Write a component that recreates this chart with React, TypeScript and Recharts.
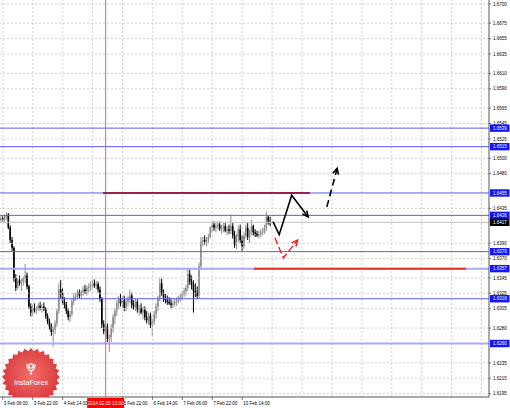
import React from 'react'
import { ComposedChart, Bar, Line, XAxis, YAxis, ReferenceLine } from 'recharts'

// EURUSD-like H1 bars (bar index, open/high/low/close)
const opens = [
  1.6420, 1.6422, 1.6420, 1.6425, 1.6427, 1.6410, 1.6394, 1.6384, 1.6345, 1.6332,
  1.6342, 1.6338, 1.6340, 1.6345, 1.6348, 1.6334, 1.6308, 1.6300, 1.6306, 1.6303,
  1.6305, 1.6309, 1.6306, 1.6308, 1.6304, 1.6295, 1.6288, 1.6282, 1.6275, 1.6278,
  1.6286, 1.6302, 1.6330, 1.6325, 1.6315, 1.6310, 1.6302, 1.6294, 1.6298, 1.6315,
  1.6320, 1.6322, 1.6326, 1.6322, 1.6327, 1.6330, 1.6328, 1.6332, 1.6334, 1.6336,
  1.6338, 1.6335, 1.6337, 1.6330, 1.6318, 1.6285, 1.6276, 1.6282, 1.6266, 1.6268,
  1.6280, 1.6294, 1.6302, 1.6312, 1.6318, 1.6312, 1.6316, 1.6306, 1.6314, 1.6318,
  1.6322, 1.6310, 1.6308, 1.6314, 1.6304, 1.6306, 1.6300, 1.6304, 1.6294, 1.6290,
  1.6296, 1.6284, 1.6288, 1.6298, 1.6308, 1.6318, 1.6338, 1.6326, 1.6318, 1.6316,
  1.6314, 1.6312, 1.6310, 1.6312, 1.6314, 1.6316, 1.6318, 1.6320, 1.6324, 1.6328,
  1.6332, 1.6350, 1.6340, 1.6336, 1.6328, 1.6326, 1.6322, 1.6360, 1.6392, 1.6394,
  1.6392, 1.6396, 1.6398, 1.6410, 1.6414, 1.6410, 1.6412, 1.6414, 1.6408, 1.6410,
  1.6412, 1.6406, 1.6408, 1.6406, 1.6412, 1.6400, 1.6388, 1.6398, 1.6408, 1.6394,
  1.6386, 1.6400, 1.6410, 1.6398, 1.6404, 1.6412, 1.6404, 1.6402, 1.6400, 1.6402,
  1.6404, 1.6406, 1.6410, 1.6424, 1.6418,
]
const highs = [
  1.6425, 1.6426, 1.6427, 1.6430, 1.6429, 1.6413, 1.6398, 1.6386, 1.6350, 1.6345,
  1.6348, 1.6344, 1.6347, 1.6363, 1.6352, 1.6336, 1.6312, 1.6310, 1.6312, 1.6308,
  1.6312, 1.6314, 1.6311, 1.6313, 1.6307, 1.6299, 1.6292, 1.6286, 1.6282, 1.6290,
  1.6305, 1.6338, 1.6342, 1.6332, 1.6320, 1.6314, 1.6306, 1.6302, 1.6318, 1.6325,
  1.6326, 1.6330, 1.6330, 1.6329, 1.6334, 1.6336, 1.6335, 1.6338, 1.6340, 1.6342,
  1.6343, 1.6341, 1.6340, 1.6334, 1.6320, 1.6290, 1.6288, 1.6286, 1.6272, 1.6285,
  1.6298, 1.6306, 1.6316, 1.6322, 1.6324, 1.6320, 1.6322, 1.6318, 1.6322, 1.6330,
  1.6326, 1.6316, 1.6318, 1.6317, 1.6310, 1.6312, 1.6308, 1.6308, 1.6302, 1.6300,
  1.6300, 1.6292, 1.6302, 1.6312, 1.6322, 1.6345, 1.6344, 1.6330, 1.6324, 1.6322,
  1.6320, 1.6318, 1.6316, 1.6318, 1.6320, 1.6322, 1.6324, 1.6328, 1.6332, 1.6336,
  1.6358, 1.6356, 1.6348, 1.6342, 1.6338, 1.6334, 1.6365, 1.6398, 1.6398, 1.6400,
  1.6398, 1.6402, 1.6412, 1.6418, 1.6418, 1.6416, 1.6418, 1.6418, 1.6414, 1.6416,
  1.6416, 1.6412, 1.6414, 1.6427, 1.6416, 1.6406, 1.6402, 1.6412, 1.6414, 1.6400,
  1.6404, 1.6414, 1.6416, 1.6408, 1.6420, 1.6414, 1.6408, 1.6406, 1.6406, 1.6408,
  1.6410, 1.6414, 1.6431, 1.6426, 1.6424,
]
const lows = [
  1.6416, 1.6418, 1.6417, 1.6421, 1.6408, 1.6390, 1.6380, 1.6340, 1.6328, 1.6330,
  1.6335, 1.6328, 1.6335, 1.6338, 1.6330, 1.6305, 1.6295, 1.6296, 1.6300, 1.6298,
  1.6302, 1.6303, 1.6300, 1.6302, 1.6292, 1.6285, 1.6278, 1.6270, 1.6256, 1.6272,
  1.6282, 1.6298, 1.6318, 1.6310, 1.6305, 1.6298, 1.6290, 1.6288, 1.6295, 1.6310,
  1.6316, 1.6318, 1.6319, 1.6318, 1.6322, 1.6324, 1.6322, 1.6326, 1.6328, 1.6330,
  1.6332, 1.6330, 1.6326, 1.6314, 1.6280, 1.6272, 1.6268, 1.6262, 1.6249, 1.6262,
  1.6274, 1.6285, 1.6296, 1.6305, 1.6308, 1.6306, 1.6302, 1.6302, 1.6308, 1.6312,
  1.6305, 1.6304, 1.6302, 1.6300, 1.6296, 1.6298, 1.6292, 1.6290, 1.6286, 1.6284,
  1.6280, 1.6270, 1.6284, 1.6292, 1.6302, 1.6315, 1.6322, 1.6314, 1.6312, 1.6310,
  1.6310, 1.6306, 1.6306, 1.6308, 1.6309, 1.6312, 1.6314, 1.6316, 1.6320, 1.6322,
  1.6328, 1.6336, 1.6330, 1.6300, 1.6320, 1.6318, 1.6318, 1.6356, 1.6386, 1.6388,
  1.6386, 1.6390, 1.6396, 1.6404, 1.6406, 1.6404, 1.6408, 1.6406, 1.6402, 1.6404,
  1.6404, 1.6400, 1.6402, 1.6402, 1.6396, 1.6384, 1.6382, 1.6392, 1.6390, 1.6380,
  1.6382, 1.6396, 1.6394, 1.6390, 1.6400, 1.6400, 1.6398, 1.6398, 1.6396, 1.6398,
  1.6400, 1.6402, 1.6406, 1.6414, 1.6412,
]
const closes = [
  1.6422, 1.6420, 1.6425, 1.6427, 1.6410, 1.6394, 1.6384, 1.6345, 1.6332, 1.6342,
  1.6338, 1.6340, 1.6345, 1.6348, 1.6334, 1.6308, 1.6300, 1.6306, 1.6303, 1.6305,
  1.6309, 1.6306, 1.6308, 1.6304, 1.6295, 1.6288, 1.6282, 1.6275, 1.6278, 1.6286,
  1.6302, 1.6330, 1.6325, 1.6315, 1.6310, 1.6302, 1.6294, 1.6298, 1.6315, 1.6320,
  1.6322, 1.6326, 1.6322, 1.6327, 1.6330, 1.6328, 1.6332, 1.6334, 1.6336, 1.6338,
  1.6335, 1.6337, 1.6330, 1.6318, 1.6285, 1.6276, 1.6282, 1.6266, 1.6268, 1.6280,
  1.6294, 1.6302, 1.6312, 1.6318, 1.6312, 1.6316, 1.6306, 1.6314, 1.6318, 1.6322,
  1.6310, 1.6308, 1.6314, 1.6304, 1.6306, 1.6300, 1.6304, 1.6294, 1.6290, 1.6296,
  1.6284, 1.6288, 1.6298, 1.6308, 1.6318, 1.6338, 1.6326, 1.6318, 1.6316, 1.6314,
  1.6312, 1.6310, 1.6312, 1.6314, 1.6316, 1.6318, 1.6320, 1.6324, 1.6328, 1.6332,
  1.6350, 1.6340, 1.6336, 1.6328, 1.6326, 1.6322, 1.6360, 1.6392, 1.6394, 1.6392,
  1.6396, 1.6398, 1.6410, 1.6414, 1.6410, 1.6412, 1.6414, 1.6408, 1.6410, 1.6412,
  1.6406, 1.6408, 1.6406, 1.6412, 1.6400, 1.6388, 1.6398, 1.6408, 1.6394, 1.6386,
  1.6400, 1.6410, 1.6398, 1.6404, 1.6412, 1.6404, 1.6402, 1.6400, 1.6402, 1.6404,
  1.6406, 1.6410, 1.6424, 1.6418, 1.6417,
]

// time axis: bar index -> label
const timeTicks = [1, 17, 33, 65, 81, 97, 113, 129, 56]
const timeLabels = [
  '3 Feb 06:00', '3 Feb 22:00', '4 Feb 14:00', '5 Feb 22:00', '6 Feb 14:00',
  '7 Feb 06:00', '7 Feb 22:00', '10 Feb 14:00', '2014.02.05 13:00',
]
const markerBar = 56
const vGrid = [1, 17, 33, 49, 65, 81, 97, 113, 129, 145, 161, 177, 193, 209, 225, 241, 257]

// price axis
const priceGrid = [
  1.6700, 1.6675, 1.6655, 1.6635, 1.6610, 1.6590, 1.6565, 1.6545, 1.6525, 1.6500,
  1.6480, 1.6435, 1.6390, 1.6370, 1.6345, 1.6325, 1.6305, 1.6280, 1.6235, 1.6215, 1.6195,
]
const blueLevels = [1.6539, 1.6515, 1.6455, 1.6426, 1.6379, 1.6318]
const paleLevels = [1.6357, 1.6260]
const levelLabels = [1.6539, 1.6515, 1.6455, 1.6426, 1.6379, 1.6357, 1.6318, 1.6260]
const bidPrice = 1.6417

// drawn levels and forecast arrows (bar index, price)
const resistance = [{ x: 54.6, y: 1.6455 }, { x: 165.2, y: 1.6455 }]
const support = [{ x: 135.3, y: 1.6357 }, { x: 248.7, y: 1.6357 }]
const mainPath = [
  { i: 145.5, p: 1.6418 }, { i: 148.8, p: 1.6401 }, { i: 155.5, p: 1.6452 }, { i: 164.3, p: 1.6424 },
]
const breakoutPath = [{ i: 174.3, p: 1.6437 }, { i: 179.8, p: 1.6487 }]
const pullbackPath = [{ i: 146.5, p: 1.6397 }, { i: 151, p: 1.6371 }, { i: 158.6, p: 1.6394 }]

const candles = opens.map((o, i) => ({ i, open: o, high: highs[i], low: lows[i], close: closes[i] }))

const FONT = '"Liberation Sans", Arial, sans-serif'

const Candle = (props: any) => {
  const { x, y, width, height, payload } = props
  const top = Math.min(y, y + height)
  const h = Math.abs(height)
  const range = payload.high - payload.low
  const k = range > 0 ? h / range : 0
  const yo = top + (payload.high - payload.open) * k
  const yc = top + (payload.high - payload.close) * k
  const cx = x + width / 2
  const color = payload.close >= payload.open ? '#8e8e8e' : '#000000'
  return (
    <g>
      <line x1={cx} x2={cx} y1={top} y2={top + h} stroke={color} strokeWidth={1} />
      <rect x={cx - 0.8} y={Math.min(yo, yc)} width={1.6} height={Math.max(0.7, Math.abs(yc - yo))} fill={color} />
    </g>
  )
}

// open "V" arrowhead on the last point of a path
const arrowDot = (color: string) => (props: any) => {
  const { cx, cy, index, points } = props
  const key = `ah-${color}-${index}`
  if (!points || index !== points.length - 1 || index < 1) return <g key={key} />
  const prev = points[index - 1]
  const ang = Math.atan2(cy - prev.y, cx - prev.x)
  const len = 6.5
  const a1 = ang + Math.PI - 0.45
  const a2 = ang + Math.PI + 0.45
  const d = `M${cx + len * Math.cos(a1)},${cy + len * Math.sin(a1)} L${cx},${cy} L${cx + len * Math.cos(a2)},${cy + len * Math.sin(a2)}`
  return <path key={key} d={d} fill="none" stroke={color} strokeWidth={1.6} />
}

const TimeTick = (props: any) => {
  const { x, y, payload } = props
  const label = timeLabels[timeTicks.indexOf(payload.value)]
  if (payload.value === markerBar) {
    return (
      <g>
        <rect x={x - 18.5} y={y - 1} width={37} height={11} fill="#ff0000" />
        <text x={x} y={y + 5.6} textAnchor="middle" fill="#ffffff" fontSize={4.6} fontFamily={FONT}>{label}</text>
      </g>
    )
  }
  return (
    <g>
      <line x1={x} x2={x} y1={y - 2} y2={y + 1} stroke="#555" strokeWidth={0.8} />
      <text x={x + 1} y={y + 5.6} fill="#000" fontSize={4.5} fontFamily={FONT}>{label}</text>
    </g>
  )
}

const PriceTick = (props: any) => {
  const { x, y, payload } = props
  const v = payload.value
  const txt = v.toFixed(4)
  if (v === bidPrice || levelLabels.includes(v)) {
    return (
      <g>
        <rect x={x - 1} y={y - 3.7} width={19.5} height={7.4} fill={v === bidPrice ? '#000000' : '#1414ff'} />
        <text x={x + 2} y={y + 1.7} fill="#ffffff" fontSize={4.5} fontFamily={FONT}>{txt}</text>
      </g>
    )
  }
  return (
    <g>
      <line x1={x - 2} x2={x} y1={y} y2={y} stroke="#555" strokeWidth={0.8} />
      <text x={x + 2} y={y + 1.7} fill="#000" fontSize={4.5} fontFamily={FONT}>{txt}</text>
    </g>
  )
}

function Badge() {
  const pts: string[] = []
  const n = 28
  for (let k = 0; k < n * 2; k++) {
    const r = k % 2 === 0 ? 29 : 26
    const a = (Math.PI * k) / n
    pts.push(`${31 + r * Math.sin(a)},${377 - r * Math.cos(a)}`)
  }
  return (
    <svg width={510} height={408} style={{ position: 'absolute', left: 0, top: 0, pointerEvents: 'none' }}>
      <defs>
        <radialGradient id="badgeFill" cx="50%" cy="45%" r="55%">
          <stop offset="0%" stopColor="#f0706a" />
          <stop offset="100%" stopColor="#d9363a" />
        </radialGradient>
        <clipPath id="plotClip">
          <rect x={0} y={0} width={489} height={397} />
        </clipPath>
      </defs>
      <g clipPath="url(#plotClip)">
        <polygon points={pts.join(' ')} fill="url(#badgeFill)" />
        <circle cx={31} cy={366} r={2.2} fill="none" stroke="#fff" strokeWidth={1.2} />
        <path d="M27 364 Q27 370 31 371 Q35 370 35 364 M31 371 L31 375" fill="none" stroke="#fff" strokeWidth={1.2} />
        <text x={31} y={385} textAnchor="middle" fill="#ffffff" fontSize={7.2} fontFamily={FONT}>InstaForex</text>
      </g>
    </svg>
  )
}

export default function App() {
  return (
    <div style={{ position: 'fixed', left: 0, top: 0, width: 510, height: 408, background: '#fff' }}>
      <ComposedChart width={510} height={408} data={candles} margin={{ top: 0, right: 0, bottom: 0, left: 0 }}>
        <XAxis
          dataKey="i"
          type="number"
          domain={[-0.5, 261]}
          ticks={timeTicks}
          interval={0}
          height={11}
          tickSize={2}
          tickMargin={0}
          tickLine={false}
          tick={<TimeTick />}
          axisLine={{ stroke: '#555' }}
          allowDataOverflow
        />
        <YAxis
          orientation="right"
          type="number"
          domain={[1.61907, 1.6705]}
          ticks={[...priceGrid, ...levelLabels, bidPrice]}
          interval={0}
          width={21}
          tickSize={2}
          tickMargin={0}
          tickLine={false}
          tick={<PriceTick />}
          axisLine={{ stroke: '#555' }}
          allowDataOverflow
        />
        {priceGrid.map(p => (
          <ReferenceLine key={'g' + p} y={p} stroke="#c4c4c4" strokeDasharray="2 2" strokeWidth={0.8} />
        ))}
        {vGrid.map(v => (
          <ReferenceLine key={'v' + v} x={v} stroke="#c4c4c4" strokeDasharray="2 2" strokeWidth={0.8} />
        ))}
        <ReferenceLine y={bidPrice} stroke="#c0c0c0" strokeWidth={1} />
        {paleLevels.map(p => (
          <ReferenceLine key={'p' + p} y={p} stroke="#a9a9f4" strokeWidth={2} />
        ))}
        {blueLevels.map(p => (
          <ReferenceLine key={'b' + p} y={p} stroke="#5c5cf0" strokeWidth={1} />
        ))}
        <ReferenceLine x={markerBar} stroke="#ff5a5a" strokeWidth={1} />
        <ReferenceLine segment={resistance} stroke="#96204f" strokeWidth={2} />
        <ReferenceLine segment={support} stroke="#e8302f" strokeWidth={2} />
        <Bar dataKey={(d: any) => [d.low, d.high]} barSize={2} shape={<Candle />} isAnimationActive={false} />
        <Line
          data={mainPath}
          dataKey="p"
          type="linear"
          stroke="#000"
          strokeWidth={1.6}
          dot={arrowDot('#000')}
          activeDot={false}
          isAnimationActive={false}
        />
        <Line
          data={breakoutPath}
          dataKey="p"
          type="linear"
          stroke="#000"
          strokeWidth={1.6}
          strokeDasharray="7 4"
          dot={arrowDot('#000')}
          activeDot={false}
          isAnimationActive={false}
        />
        <Line
          data={pullbackPath}
          dataKey="p"
          type="linear"
          stroke="#ff1a1a"
          strokeWidth={1.4}
          strokeDasharray="7 3"
          dot={arrowDot('#ff1a1a')}
          activeDot={false}
          isAnimationActive={false}
        />
      </ComposedChart>
      <Badge />
    </div>
  )
}
